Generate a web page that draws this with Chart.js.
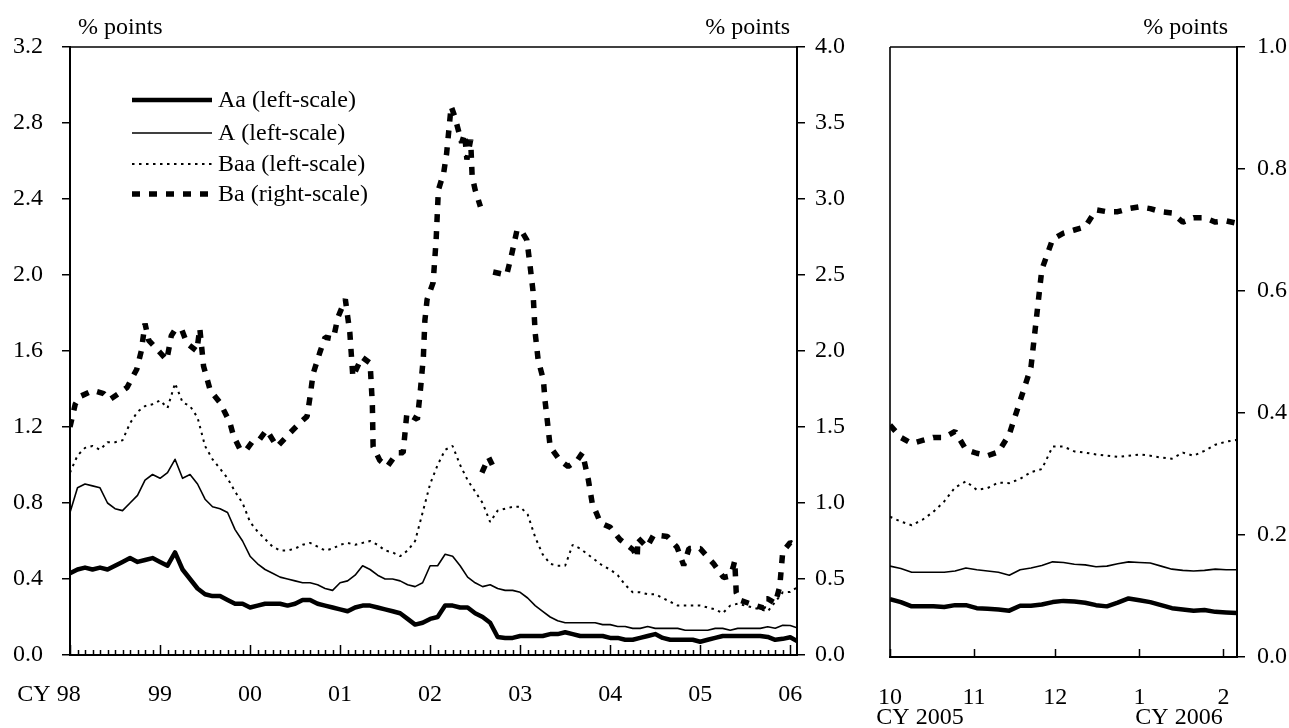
<!DOCTYPE html>
<html>
<head>
<meta charset="utf-8">
<script src="https://cdn.jsdelivr.net/npm/chart.js@4.4.1/dist/chart.umd.min.js"></script>
<style>
html, body { margin: 0; padding: 0; background: #fff; }
#wrap { position: relative; width: 1289px; height: 728px; overflow: hidden; }
#leftChart { position: absolute; left: 0; top: 0; }
#rightChart { position: absolute; left: 850px; top: 0; }
</style>
</head>
<body>
<div id="wrap">
  <canvas id="leftChart" width="850" height="728"></canvas>
  <canvas id="rightChart" width="439" height="728"></canvas>
</div>
<script>
// ---- left panel: monthly, months since Jan 1998 ----
const monthIdx = Array.from({ length: 97 }, (_, i) => i).concat([96.9]);
const yearTicks = [0, 12, 24, 36, 48, 60, 72, 84, 96];
const yearLabels = ["CY 98", "99", "00", "01", "02", "03", "04", "05", "06"];

const aaLeft = [0.43,0.45,0.46,0.45,0.46,0.45,0.47,0.49,0.51,0.49,
  0.50,0.51,0.49,0.47,0.54,0.45,0.40,0.35,0.32,0.31,
  0.31,0.29,0.27,0.27,0.25,0.26,0.27,0.27,0.27,0.26,
  0.27,0.29,0.29,0.27,0.26,0.25,0.24,0.23,0.25,0.26,
  0.26,0.25,0.24,0.23,0.22,0.19,0.16,0.17,0.19,0.20,
  0.26,0.26,0.25,0.25,0.22,0.20,0.17,0.095,0.09,0.09,
  0.10,0.10,0.10,0.10,0.11,0.11,0.12,0.11,0.10,0.10,
  0.10,0.10,0.09,0.09,0.08,0.08,0.09,0.10,0.11,0.09,
  0.08,0.08,0.08,0.08,0.07,0.08,0.09,0.10,0.10,0.10,
  0.10,0.10,0.10,0.095,0.08,0.085,0.093,0.074];

const aLeft = [0.75,0.88,0.90,0.89,0.88,0.80,0.77,0.76,0.80,0.84,
  0.92,0.95,0.93,0.96,1.03,0.93,0.95,0.90,0.82,0.78,
  0.77,0.75,0.66,0.60,0.52,0.48,0.45,0.43,0.41,0.40,
  0.39,0.38,0.38,0.37,0.35,0.34,0.38,0.39,0.42,0.47,
  0.45,0.42,0.40,0.40,0.39,0.37,0.36,0.38,0.47,0.47,
  0.53,0.52,0.47,0.41,0.38,0.36,0.37,0.35,0.34,0.34,
  0.33,0.30,0.26,0.23,0.20,0.18,0.17,0.17,0.17,0.17,
  0.17,0.16,0.16,0.15,0.15,0.14,0.14,0.15,0.14,0.14,
  0.14,0.14,0.13,0.13,0.13,0.13,0.14,0.14,0.13,0.14,
  0.14,0.14,0.14,0.149,0.141,0.156,0.155,0.143];

const baaLeft = [0.96,1.05,1.09,1.10,1.08,1.12,1.12,1.13,1.22,1.28,
  1.31,1.32,1.34,1.30,1.43,1.33,1.31,1.25,1.10,1.03,
  0.98,0.93,0.86,0.80,0.70,0.65,0.61,0.57,0.55,0.55,
  0.56,0.58,0.59,0.57,0.55,0.56,0.58,0.59,0.58,0.59,
  0.60,0.58,0.55,0.54,0.52,0.55,0.60,0.75,0.90,1.00,
  1.08,1.10,1.00,0.92,0.86,0.80,0.70,0.76,0.77,0.78,
  0.78,0.74,0.62,0.53,0.48,0.47,0.47,0.58,0.56,0.53,
  0.50,0.47,0.45,0.42,0.37,0.33,0.33,0.32,0.32,0.30,
  0.28,0.26,0.26,0.26,0.26,0.25,0.24,0.22,0.26,0.27,
  0.26,0.25,0.24,0.23,0.28,0.33,0.332,0.356];

// Ba has its own month positions (null = break in the series)
const baMonths = [0,0.7,1.3,3.1,4.5,5.3,6.5,7.6,8.9,9.5,
  10.0,10.5,12.0,12.9,13.5,14.0,14.9,15.6,16.9,17.3,
  17.8,18.7,20.0,21.3,21.8,22.7,23.5,24.4,25.3,26.2,
  27.6,29.3,30.7,31.6,32.0,32.4,33.3,34.0,35.1,35.7,
  36.7,37.3,37.7,38.9,40.0,40.3,40.4,41.3,42.3,43.6,
  44.4,44.9,46.3,46.7,47.1,47.3,47.6,48.4,48.8,49.1,
  49.8,50.2,50.8,51.3,52.2,52.6,52.9,53.4,53.6,54.0,
  54.7,54.8,54.9,55.8,56.3,56.35,56.4,58.2,58.8,59.6,
  60.3,60.9,61.3,61.7,62.0,62.4,63.1,63.3,63.6,64.0,
  65.3,66.4,67.6,68.3,68.7,69.1,69.6,70.7,72.0,73.3,
  75.1,75.6,75.7,76.9,77.8,79.6,80.9,81.8,82.5,84.0,
  85.8,87.1,88.0,88.4,88.6,88.8,89.3,91.1,92.4,92.6,
  93.0,94.0,94.6,95.0,96.0,96.9];
const baRight = [1.50,1.65,1.70,1.74,1.72,1.68,1.72,1.76,1.88,2.00,
  2.18,2.07,1.99,1.94,2.10,2.14,2.14,2.05,2.00,2.15,
  1.90,1.74,1.66,1.53,1.44,1.35,1.35,1.41,1.42,1.48,
  1.37,1.46,1.53,1.57,1.70,1.85,1.99,2.09,2.08,2.22,
  2.34,2.12,1.83,1.96,1.92,1.65,1.37,1.28,1.24,1.33,
  1.33,1.59,1.55,1.74,1.96,2.20,2.34,2.45,2.73,3.06,
  3.17,3.30,3.61,3.54,3.37,3.43,3.26,3.39,3.15,3.06,
  2.95,null,1.20,1.30,1.25,null,2.52,2.50,2.62,2.80,
  2.78,2.73,2.57,2.40,2.12,1.94,1.81,1.68,1.55,1.37,
  1.28,1.24,1.28,1.33,1.24,1.15,1.00,0.87,0.84,0.76,
  0.69,0.64,0.77,0.71,0.79,0.78,0.71,0.59,0.70,0.70,
  0.60,0.51,0.52,0.58,0.62,0.41,0.36,0.33,0.31,0.37,
  0.37,0.34,0.45,0.68,0.74,0.715];

// ---- right panel: daily, days since 1 Oct 2005 ----
const dayIdx = Array.from({ length: 33 }, (_, i) => i * 4);
const monthTicks = [0, 31, 61, 92, 123];
const monthLabels = ["10", "11", "12", "1", "2"];

const baR = [0.38,0.36,0.35,0.355,0.36,0.36,0.37,0.34,0.334,0.33,
  0.336,0.365,0.42,0.475,0.635,0.685,0.695,0.70,0.705,0.733,
  0.73,0.73,0.735,0.738,0.735,0.73,0.728,0.713,0.72,0.72,
  0.713,0.715,0.711];
const baaR = [0.23,0.222,0.216,0.225,0.238,0.255,0.278,0.288,0.274,0.277,
  0.286,0.285,0.292,0.303,0.308,0.345,0.345,0.337,0.335,0.332,
  0.33,0.328,0.33,0.332,0.33,0.327,0.325,0.335,0.33,0.338,
  0.348,0.353,0.356];
const aR = [0.149,0.145,0.139,0.139,0.139,0.139,0.141,0.146,0.143,0.141,
  0.139,0.134,0.143,0.146,0.150,0.156,0.155,0.152,0.151,0.148,
  0.149,0.153,0.156,0.155,0.154,0.149,0.144,0.142,0.141,0.142,
  0.144,0.143,0.143];
const aaR = [0.095,0.090,0.083,0.083,0.083,0.082,0.085,0.085,0.080,0.079,
  0.078,0.076,0.084,0.084,0.086,0.090,0.092,0.091,0.089,0.085,
  0.083,0.089,0.096,0.093,0.090,0.085,0.080,0.078,0.076,0.077,
  0.074,0.073,0.072];

const seriesNames = ["Aa (left-scale)", "A (left-scale)", "Baa (left-scale)", "Ba (right-scale)"];

const FONT = '24px "Liberation Serif", "Times New Roman", serif';
Chart.defaults.font.family = '"Liberation Serif", "Times New Roman", serif';
Chart.defaults.font.size = 24;
Chart.defaults.color = "#000";

const pts = (xs, ys) => xs.map((x, i) => ({ x: x, y: ys[i] }));

const lineStyle = [
  { borderWidth: 4.5, borderDash: [], borderJoinStyle: "round" },
  { borderWidth: 1.6, borderDash: [], borderJoinStyle: "round" },
  { borderWidth: 2, borderDash: [2.5, 4.5], borderJoinStyle: "bevel" },
  { borderWidth: 5.5, borderDash: [8, 9], borderJoinStyle: "bevel" }
];

function ds(i, data, axis) {
  return Object.assign({
    label: seriesNames[i], data: data, yAxisID: axis,
    borderColor: "#000", backgroundColor: "#000",
    pointRadius: 0, tension: 0, spanGaps: false, fill: false
  }, lineStyle[i]);
}

// top line, left line, inward x ticks and free texts
const framePlugin = {
  id: "frame",
  afterDraw(chart, args, opts) {
    const ctx = chart.ctx, a = chart.chartArea, xs = chart.scales.x;
    ctx.save();
    ctx.strokeStyle = "#000";
    ctx.lineWidth = 1.6;
    ctx.beginPath();
    ctx.moveTo(a.left, a.top); ctx.lineTo(a.right, a.top);
    if (opts.leftLine) { ctx.moveTo(a.left, a.top); ctx.lineTo(a.left, a.bottom); }
    ctx.stroke();
    ctx.lineWidth = 1.5;
    ctx.beginPath();
    opts.ticks.forEach(t => {
      const px = Math.round(xs.getPixelForValue(t.v)) + 0.5;
      ctx.moveTo(px, a.bottom); ctx.lineTo(px, a.bottom - t.len);
    });
    ctx.stroke();
    ctx.fillStyle = "#000";
    ctx.font = FONT;
    ctx.textBaseline = "middle";
    opts.texts.forEach(t => {
      ctx.textAlign = t.align;
      ctx.fillText(t.text, t.x, t.y);
    });
    ctx.restore();
  }
};

// legend drawn inside the plot area
const boxLegend = {
  id: "boxLegend",
  afterDraw(chart, args, opts) {
    if (!opts.show) return;
    const ctx = chart.ctx;
    ctx.save();
    chart.data.datasets.forEach((d, i) => {
      const y = opts.ys[i];
      ctx.strokeStyle = "#000";
      ctx.lineWidth = d.borderWidth;
      ctx.setLineDash(d.borderDash);
      ctx.beginPath(); ctx.moveTo(opts.x1, y); ctx.lineTo(opts.x2, y); ctx.stroke();
      ctx.setLineDash([]);
      ctx.fillStyle = "#000";
      ctx.font = FONT;
      ctx.textAlign = "left"; ctx.textBaseline = "middle";
      ctx.fillText(d.label, opts.textX, y + 1);
    });
    ctx.restore();
  }
};

const yAxisBase = (pos, max, step, width, pad) => ({
  type: "linear", position: pos, min: 0, max: max,
  afterFit: s => { s.width = width; },
  grid: { drawOnChartArea: false, drawTicks: true, tickLength: 8, color: "#000", lineWidth: 1.5 },
  border: { display: true, color: "#000", width: 2 },
  ticks: { stepSize: step, padding: pad, callback: v => v.toFixed(1) }
});

const leftTicks = monthIdx.filter(m => Number.isInteger(m)).map(m => ({ v: m, len: m % 12 === 0 ? 10 : 5 }));

new Chart(document.getElementById("leftChart"), {
  type: "line",
  data: {
    datasets: [
      ds(0, pts(monthIdx, aaLeft), "yL"),
      ds(1, pts(monthIdx, aLeft), "yL"),
      ds(2, pts(monthIdx, baaLeft), "yL"),
      ds(3, pts(baMonths, baRight), "yR")
    ]
  },
  options: {
    responsive: false, animation: false, devicePixelRatio: 1, events: [],
    layout: { padding: { top: 47, left: 0, right: 0, bottom: 0 } },
    scales: {
      x: {
        type: "linear", min: 0, max: 96.9,
        afterBuildTicks: s => { s.ticks = yearTicks.map(v => ({ value: v })); },
        afterFit: s => { s.height = 73; s.paddingLeft = 0; s.paddingRight = 0; },
        grid: { display: false, drawTicks: false },
        border: { display: true, color: "#000", width: 2 },
        ticks: {
          autoSkip: false, maxRotation: 0, padding: 25,
          callback: (v, i) => i === 0 ? yearLabels[0] + "       " : yearLabels[i]
        }
      },
      yL: yAxisBase("left", 3.2, 0.4, 70, 19),
      yR: yAxisBase("right", 4.0, 0.5, 53, 10)
    },
    plugins: {
      legend: { display: false },
      tooltip: { enabled: false },
      frame: {
        leftLine: false, ticks: leftTicks,
        texts: [
          { text: "% points", x: 78, y: 28, align: "left" },
          { text: "% points", x: 790, y: 28, align: "right" }
        ]
      },
      boxLegend: { show: true, x1: 132, x2: 212, textX: 218, ys: [100, 133, 164, 194] }
    }
  },
  plugins: [framePlugin, boxLegend]
});

new Chart(document.getElementById("rightChart"), {
  type: "line",
  data: {
    datasets: [
      ds(0, pts(dayIdx, aaR), "y"),
      ds(1, pts(dayIdx, aR), "y"),
      ds(2, pts(dayIdx, baaR), "y"),
      ds(3, pts(dayIdx, baR), "y")
    ]
  },
  options: {
    responsive: false, animation: false, devicePixelRatio: 1, events: [],
    layout: { padding: { top: 47, left: 40, right: 0, bottom: 0 } },
    scales: {
      x: {
        type: "linear", min: 0, max: 128,
        afterBuildTicks: s => { s.ticks = monthTicks.map(v => ({ value: v })); },
        afterFit: s => { s.height = 71; s.paddingLeft = 0; s.paddingRight = 0; },
        grid: { display: false, drawTicks: false },
        border: { display: true, color: "#000", width: 2 },
        ticks: { autoSkip: false, maxRotation: 0, padding: 26, callback: (v, i) => monthLabels[i] }
      },
      y: yAxisBase("right", 1.0, 0.2, 52, 12)
    },
    plugins: {
      legend: { display: false },
      tooltip: { enabled: false },
      frame: {
        leftLine: true,
        ticks: monthTicks.map(v => ({ v: v, len: 8 })),
        texts: [
          { text: "% points", x: 378, y: 28, align: "right" },
          { text: "CY 2005", x: 70, y: 718, align: "center" },
          { text: "CY 2006", x: 329, y: 718, align: "center" }
        ]
      },
      boxLegend: { show: false }
    }
  },
  plugins: [framePlugin, boxLegend]
});
</script>
</body>
</html>
